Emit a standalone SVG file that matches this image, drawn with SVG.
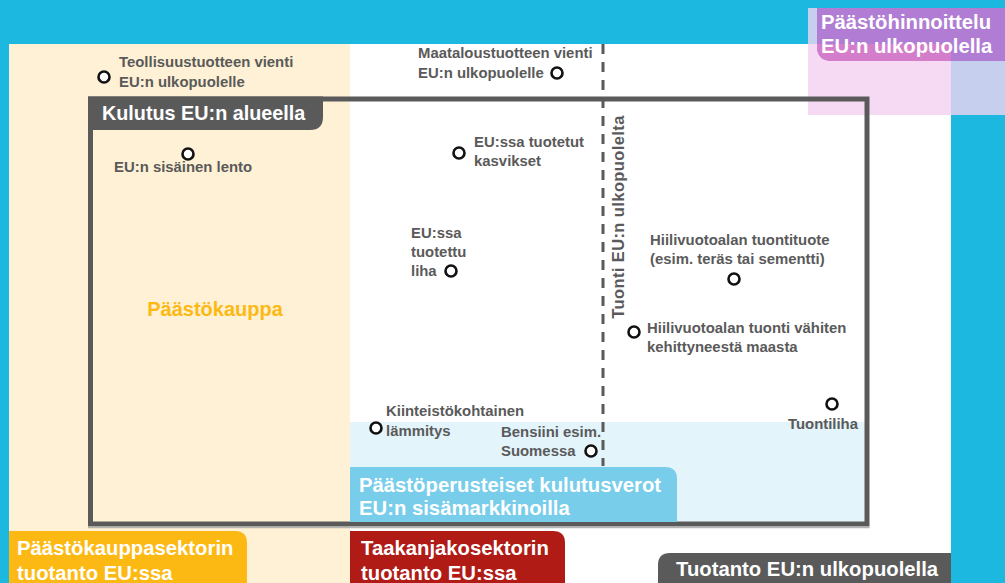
<svg xmlns="http://www.w3.org/2000/svg" width="1005" height="583" viewBox="0 0 1005 583">
<style>
.lbl{font-family:"Liberation Sans",Arial,sans-serif;font-weight:bold;font-size:14.9px;fill:#5a5a5a}
.ttl{font-family:"Liberation Sans",Arial,sans-serif;font-weight:bold;font-size:20.3px;fill:#ffffff}
.dot{fill:#ffffff;stroke:#111111;stroke-width:2.6}
</style>
<g id="background">
<rect x="0" y="0" width="1005" height="583" fill="#1db8e0"/>
<rect x="9" y="44" width="942" height="539" fill="#ffffff"/>
<rect x="9" y="44" width="341" height="539" fill="#fef1d5"/>
<rect x="350" y="422" width="518" height="102" fill="#e3f4fb"/>
</g>
<g id="pricing-outside">
<rect x="808" y="8" width="197" height="36" fill="#c7cfef"/>
<rect x="808" y="44" width="143" height="71" fill="#f6daf3"/>
<rect x="951" y="44" width="54" height="71" fill="#c7cfef"/>
<path d="M817,8 H1005 V61 H832 Q817,61 817,46 Z" fill="#b07cd4"/>
<path d="M817,44 H951 V61 H832 Q817,61 817,46 Z" fill="#d47ecb"/>
<text class="ttl" x="821" y="29">Päästöhinnoittelu</text>
<text class="ttl" x="821" y="53">EU:n ulkopuolella</text>
</g>
<g id="consumption-eu">
<rect x="90.5" y="99" width="776.5" height="425" fill="none" stroke="#5a5a5a" stroke-width="5"/>
<line x1="88" y1="527.5" x2="869.5" y2="527.5" stroke="#b4b4b4" stroke-width="1.5"/>
<path d="M88,96.5 H323 V117 Q323,130 310,130 H88 Z" fill="#5a5a5a"/>
<text class="ttl" x="102" y="120" style="font-size:19.8px">Kulutus EU:n alueella</text>
</g>
<g id="connectors">
<line x1="603" y1="44" x2="603" y2="466" stroke="#5a5a5a" stroke-width="3" stroke-dasharray="10,8"/>
</g>
<g id="import-label">
<text class="lbl" transform="translate(624,217) rotate(-90)" text-anchor="middle" style="font-size:16.5px;letter-spacing:0.4px">Tuonti EU:n ulkopuolelta</text>
</g>
<g id="emission-trading">
<text x="215" y="316" text-anchor="middle" style="font-family:'Liberation Sans',Arial,sans-serif;font-weight:bold;font-size:20px;fill:#fdb913">Päästökauppa</text>
</g>
<g id="consumption-taxes">
<path d="M350,467 H665 Q677,467 677,479 V522 H350 Z" fill="#78cdeb"/>
<text class="ttl" x="359" y="492">Päästöperusteiset kulutusverot</text>
<text class="ttl" x="359" y="515">EU:n sisämarkkinoilla</text>
</g>
<g id="ets-production">
<path d="M9,531 H235 Q247,531 247,543 V583 H9 Z" fill="#fdb913"/>
<text class="ttl" x="17" y="555">Päästökauppasektorin</text>
<text class="ttl" x="17" y="580">tuotanto EU:ssa</text>
</g>
<g id="esr-production">
<path d="M350,531 H553 Q565,531 565,543 V583 H350 Z" fill="#b01b16"/>
<text class="ttl" x="361" y="555">Taakanjakosektorin</text>
<text class="ttl" x="361" y="580">tuotanto EU:ssa</text>
</g>
<g id="production-outside">
<path d="M670,553 H951 V583 H658 V565 Q658,553 670,553 Z" fill="#5a5a5a"/>
<text class="ttl" x="676" y="576">Tuotanto EU:n ulkopuolella</text>
</g>
<g id="n-industrial-export">
<circle class="dot" cx="104" cy="77" r="5.5"/>
<text class="lbl" x="119" y="67">Teollisuustuotteen vienti</text>
<text class="lbl" x="119" y="87">EU:n ulkopuolelle</text>
</g>
<g id="n-agri-export">
<circle class="dot" cx="557" cy="73" r="5.5"/>
<text class="lbl" x="418" y="58">Maataloustuotteen vienti</text>
<text class="lbl" x="418" y="78">EU:n ulkopuolelle</text>
</g>
<g id="n-flight">
<circle class="dot" cx="188" cy="154" r="5.5"/>
<text class="lbl" x="114" y="172">EU:n sisäinen lento</text>
</g>
<g id="n-vegetables">
<circle class="dot" cx="459" cy="153" r="5.5"/>
<text class="lbl" x="474" y="147">EU:ssa tuotetut</text>
<text class="lbl" x="474" y="166">kasvikset</text>
</g>
<g id="n-meat">
<circle class="dot" cx="451" cy="271" r="5.5"/>
<text class="lbl" x="411" y="238">EU:ssa</text>
<text class="lbl" x="411" y="257">tuotettu</text>
<text class="lbl" x="411" y="276">liha</text>
</g>
<g id="n-leakage-product">
<circle class="dot" cx="734" cy="279" r="5.5"/>
<text class="lbl" x="650" y="245">Hiilivuotoalan tuontituote</text>
<text class="lbl" x="650" y="264">(esim. teräs tai sementti)</text>
</g>
<g id="n-leakage-ldc">
<circle class="dot" cx="634" cy="332" r="5.5"/>
<text class="lbl" x="647" y="333">Hiilivuotoalan tuonti vähiten</text>
<text class="lbl" x="647" y="352">kehittyneestä maasta</text>
</g>
<g id="n-import-meat">
<circle class="dot" cx="832" cy="404" r="5.5"/>
<text class="lbl" x="858" y="429" text-anchor="end">Tuontiliha</text>
</g>
<g id="n-heating">
<circle class="dot" cx="376" cy="428" r="5.5"/>
<text class="lbl" x="386" y="416">Kiinteistökohtainen</text>
<text class="lbl" x="386" y="436">lämmitys</text>
</g>
<g id="n-petrol">
<circle class="dot" cx="591" cy="451" r="5.5"/>
<text class="lbl" x="501" y="437">Bensiini esim.</text>
<text class="lbl" x="501" y="456">Suomessa</text>
</g>
</svg>
